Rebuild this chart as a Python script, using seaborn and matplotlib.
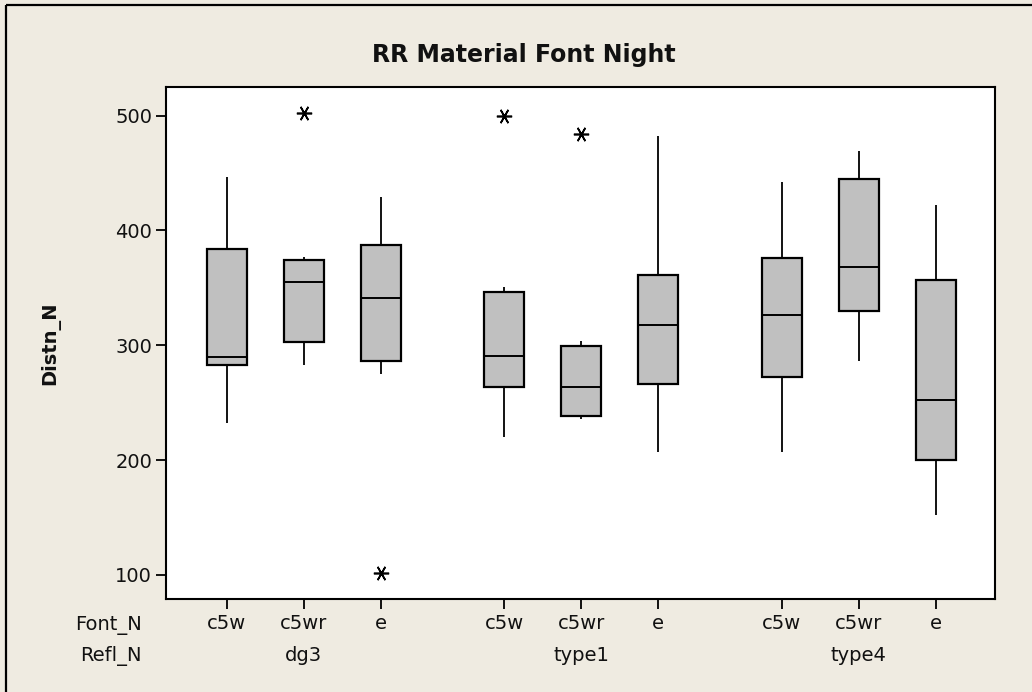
import numpy as np
import pandas as pd
import matplotlib
matplotlib.use("Agg")
import matplotlib.pyplot as plt
from matplotlib.lines import Line2D
import seaborn as sns

# ---- data ----
refl_groups = ["dg3", "type1", "type4"]
font_levels = ["c5w", "c5wr", "e"]
font_labels = ["c5w", "c5wr", "e", "c5w", "c5wr", "e", "c5w", "c5wr", "e"]
refl_labels = ["dg3", "dg3", "dg3", "type1", "type1", "type1", "type4", "type4", "type4"]

whisker_low = [232, 283, 275, 220, 236, 207, 207, 286, 152]
q1 = [283, 303, 286, 264, 238, 266, 272, 330, 200]
median = [290, 355, 341, 291, 264, 318, 326, 368, 252]
q3 = [384, 374, 387, 346, 299, 361, 376, 445, 357]
whisker_high = [447, 377, 429, 351, 304, 482, 442, 469, 422]
outliers = [[], [502], [102], [500], [484], [], [], [], []]

# x positions (layout: gap between Refl_N groups)
positions = [0, 1, 2, 3.6, 4.6, 5.6, 7.2, 8.2, 9.2]

# Build sample sets whose quartiles reproduce the read summary values
rows = []
for i in range(len(positions)):
    vals = [whisker_low[i], q1[i], q1[i], median[i], median[i], q3[i], q3[i], whisker_high[i]] + outliers[i]
    for v in vals:
        rows.append({"pos": positions[i], "Distn_N": v, "Font_N": font_labels[i], "Refl_N": refl_labels[i]})
df = pd.DataFrame(rows)

# ---- style ----
sns.set_style("white")
plt.rcParams["font.family"] = ["DejaVu Sans"]
bg = "#EFEBE1"

fig = plt.figure(figsize=(10.32, 6.92), dpi=100, facecolor=bg)
ax = fig.add_axes([166 / 1032, 1 - 599 / 692, (995 - 166) / 1032, (599 - 87) / 692])
ax.set_facecolor("white")

sns.boxplot(
    data=df, x="pos", y="Distn_N", native_scale=True, ax=ax,
    color="#C0C0C0", saturation=1, width=0.52, linecolor="black", linewidth=1.3,
    showcaps=False,
    flierprops=dict(marker=(6, 2, 90), markersize=11, markeredgewidth=1.2,
                    markeredgecolor="black", markerfacecolor="black"),
    medianprops=dict(color="black", linewidth=1.4),
    whiskerprops=dict(color="black", linewidth=1.3),
    boxprops=dict(edgecolor="black", linewidth=1.6),
)

ax.set_xlim(-0.79, 9.97)
ax.set_ylim(79, 525)
ax.set_yticks([100, 200, 300, 400, 500])
ax.set_xticks(positions, labels=font_labels)
ax.tick_params(axis="both", which="both", direction="out", length=7, width=1.3,
               color="black", labelsize=14, labelcolor="#111111", left=True, bottom=True)
ax.tick_params(axis="x", pad=4)
ax.tick_params(axis="y", pad=3)
ax.set_xlabel("")
ax.set_ylabel("")
for s in ax.spines.values():
    s.set_visible(True)
    s.set_color("black")
    s.set_linewidth(1.5)

# second row of x labels (Refl_N groups), centred under the middle box
tr = ax.get_xaxis_transform()
for g, p in zip(refl_groups, [positions[1], positions[4], positions[7]]):
    ax.text(p, -0.111, g, transform=tr, ha="center", va="center", fontsize=14, color="#111111")

# row titles
ax.text(-0.029, -0.0508, "Font_N", transform=ax.transAxes, ha="right", va="center", fontsize=14, color="#111111")
ax.text(-0.029, -0.111, "Refl_N", transform=ax.transAxes, ha="right", va="center", fontsize=14, color="#111111")

# y label and title
fig.text(50 / 1032, 1 - 343 / 692, "Distn_N", rotation=90, ha="center", va="center",
         fontsize=14, fontweight="bold", color="#111111")
fig.text(524 / 1032, 1 - 55 / 692, "RR Material Font Night", ha="center", va="center",
         fontsize=17, fontweight="bold", color="#111111")

# outer frame lines (top and left)
fig.add_artist(Line2D([5.5 / 1032, 1.0], [1 - 4.5 / 692, 1 - 4.5 / 692], transform=fig.transFigure,
                      color="black", lw=1.6, solid_capstyle="butt"))
fig.add_artist(Line2D([5.5 / 1032, 5.5 / 1032], [0, 1 - 4.5 / 692], transform=fig.transFigure,
                      color="black", lw=1.6, solid_capstyle="butt"))

fig.savefig("out.png", dpi=100, facecolor=bg)
